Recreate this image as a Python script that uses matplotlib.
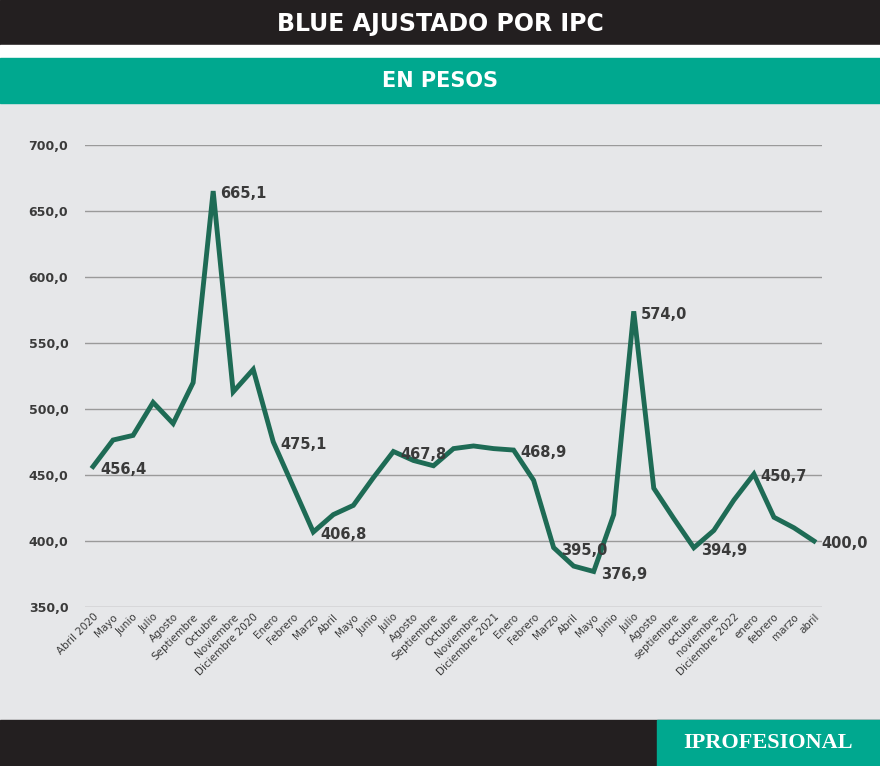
import matplotlib.pyplot as plt
import numpy as np

months = ['Abril 2020', 'Mayo', 'Junio', 'Julio', 'Agosto', 'Septiembre', 'Octubre', 'Noviembre',
          'Diciembre 2020', 'Enero', 'Febrero', 'Marzo', 'Abril', 'Mayo', 'Junio', 'Julio', 'Agosto',
          'Septiembre', 'Octubre', 'Noviembre', 'Diciembre 2021', 'Enero', 'Febrero', 'Marzo', 'Abril',
          'Mayo', 'Junio', 'Julio', 'Agosto', 'septiembre', 'octubre', 'noviembre', 'Diciembre 2022',
          'enero', 'febrero', 'marzo', 'abril']
values = [456.4, 476.5, 480, 505, 489, 520, 665.1, 513, 530, 475.1, 441, 406.8, 420, 427, 448,
          467.8, 461, 457, 470, 472, 470, 468.9, 446, 395.0, 381, 376.9, 420, 574.0, 440, 417,
          394.9, 408, 431, 450.7, 418, 410, 400.0]
labeled = {0: '456,4', 6: '665,1', 9: '475,1', 11: '406,8', 15: '467,8', 21: '468,9',
           23: '395,0', 25: '376,9', 27: '574,0', 30: '394,9', 33: '450,7', 36: '400,0'}

bg = '#e6e7e9'
green = '#1e6b55'
fig = plt.figure(figsize=(8.8, 7.66), dpi=100)
fig.patch.set_facecolor(bg)

# header / footer bands
fig.add_artist(plt.Rectangle((0, 1 - 45/766), 1, 45/766, transform=fig.transFigure, color='#231f20'))
fig.add_artist(plt.Rectangle((0, 1 - 58/766), 1, 13/766, transform=fig.transFigure, color='white'))
fig.add_artist(plt.Rectangle((0, 1 - 103/766), 1, 45/766, transform=fig.transFigure, color='#00a88f'))
fig.add_artist(plt.Rectangle((0, 0), 1, 46/766, transform=fig.transFigure, color='#231f20'))
fig.add_artist(plt.Rectangle((657/880, 0), 223/880, 46/766, transform=fig.transFigure, color='#00a88f'))
fig.text(0.5, 1 - 24/766, 'BLUE AJUSTADO POR IPC', color='white', fontsize=17, fontweight='bold',
         ha='center', va='center')
fig.text(0.5, 1 - 81/766, 'EN PESOS', color='white', fontsize=15, fontweight='bold',
         ha='center', va='center')
fig.text(768/880, 23/766, 'IPROFESIONAL', color='white', fontsize=16, family='Liberation Serif',
         fontweight='bold', ha='center', va='center')

ax = fig.add_axes([85/880, 1 - 607/766, 737/880, 462/766])
ax.set_facecolor(bg)
x = np.arange(len(values))
ax.plot(x, values, color=green, lw=3.5, solid_joinstyle='miter')
for i, t in labeled.items():
    ax.annotate(t, (x[i], values[i]), xytext=(5, -2), textcoords='offset points',
                fontsize=10.5, fontweight='bold', color='#3a3a3a', va='center', ha='left')

ax.set_ylim(350, 700)
ax.set_xlim(-0.4, len(values) - 0.6)
ax.set_yticks(np.arange(350, 701, 50))
ax.set_yticklabels([f'{v:.1f}'.replace('.', ',') for v in np.arange(350, 701, 50)],
                   fontsize=9, fontweight='bold', color='#3a3a3a')
ax.set_xticks(x)
ax.set_xticklabels(months, rotation=45, ha='right', rotation_mode='anchor', fontsize=7.5, color='#3a3a3a')
ax.yaxis.grid(True, color='#9a9a9a', lw=1)
ax.set_axisbelow(True)
for s in ax.spines.values():
    s.set_visible(False)
ax.tick_params(length=0)
ax.tick_params(axis='y', pad=12)

fig.savefig('out.png', dpi=100, facecolor=bg)
